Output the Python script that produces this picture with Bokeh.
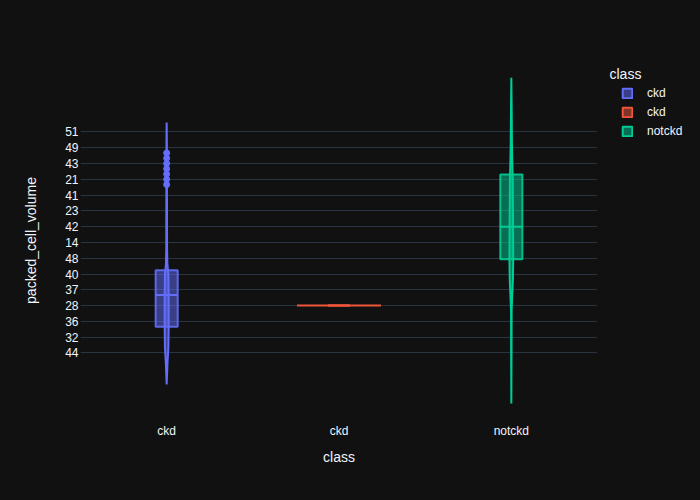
from bokeh.plotting import figure
from bokeh.models import FixedTicker, Legend, LegendItem, Range1d, Label
from bokeh.layouts import row
from bokeh.embed import file_html
from bokeh.resources import INLINE

# ---------------- data ----------------
classes = ["ckd", "ckd\t", "notckd"]
class_labels = ["ckd", "ckd", "notckd"]
colors = ["#636efa", "#EF553B", "#00cc96"]

# packed_cell_volume categories shown on the axis (every third category index)
y_tick_index = [0, 3, 6, 9, 12, 15, 18, 21, 24, 27, 30, 33, 36, 39, 42]
y_tick_labels = ["44", "32", "36", "28", "37", "40", "48", "14", "42", "23", "41", "21", "43", "49", "51"]

# violin density profiles (category index, half-width density)
ckd_prof_y = [-6.0, -2.0, 1.0, 5.0, 10.0, 15.0, 17.0, 20.0, 30.0, 40.0, 43.8]
ckd_prof_d = [0.0, 0.8, 1.7, 2.0, 2.0, 1.7, 0.7, 0.4, 0.3, 0.2, 0.0]
ckdt_prof_y = [9.0, 9.0]
ckdt_prof_d = [42.0, 42.0]
notckd_prof_y = [-9.6, 0.0, 8.0, 11.0, 14.0, 18.0, 25.0, 33.0, 36.0, 40.0, 47.0, 52.3]
notckd_prof_d = [0.0, 0.2, 0.3, 0.9, 1.6, 1.9, 1.7, 1.4, 1.0, 0.6, 0.3, 0.0]

# box statistics (category index)
q1 = [5.0, 9.0, 17.8]
median = [11.0, 9.0, 24.0]
q3 = [15.7, 9.0, 33.9]

# outliers for ckd (category index)
ckd_outliers = [32, 33, 34, 35, 36, 37, 38]

profiles = [(ckd_prof_y, ckd_prof_d), (ckdt_prof_y, ckdt_prof_d), (notckd_prof_y, notckd_prof_d)]

# ---------------- style ----------------
BG = "#111111"
GRID = "#283442"
TXT = "#f2f5fa"
FONT = "Liberation Sans"
DENSITY_SCALE = 1 / 172.33
BOX_HALF = 0.064

p = figure(width=597, height=500, output_backend="svg", toolbar_location=None,
           x_range=Range1d(-0.5, 2.5), y_range=Range1d(-12.83, 55.58),
           min_border_left=80, min_border_right=0, min_border_top=60, min_border_bottom=80)
p.background_fill_color = BG
p.border_fill_color = BG
p.outline_line_color = None

# legend panel as a second, axis-less figure (its frame lines up with the main frame: 60..420 px)
lg = figure(width=103, height=500, output_backend="svg", toolbar_location=None,
            x_range=Range1d(0, 103), y_range=Range1d(80, 440),
            min_border_left=0, min_border_right=0, min_border_top=60, min_border_bottom=80)
lg.background_fill_color = BG
lg.border_fill_color = BG
lg.outline_line_color = None
lg.axis.visible = False
lg.grid.grid_line_color = None

legend_items = []
for i, (cls, col) in enumerate(zip(classes, colors)):
    py, pd_ = profiles[i]
    xs = [i + d * DENSITY_SCALE for d in pd_] + [i - d * DENSITY_SCALE for d in reversed(pd_)]
    ys = list(py) + list(reversed(py))
    p.patch(xs, ys, fill_color=col, fill_alpha=0.5, line_color=col, line_width=2)
    p.quad(left=[i - BOX_HALF], right=[i + BOX_HALF], bottom=[q1[i]], top=[q3[i]],
           fill_color=col, fill_alpha=0.5, line_color=col, line_width=2, line_alpha=0.9)
    p.segment(x0=[i - BOX_HALF], x1=[i + BOX_HALF], y0=[median[i]], y1=[median[i]],
              line_color=col, line_width=2)
    # legend key: same box, lies outside the legend panel's visible range
    key = lg.quad(left=[i - BOX_HALF], right=[i + BOX_HALF], bottom=[q1[i]], top=[q3[i]],
                  fill_color=col, fill_alpha=0.5, line_color=col, line_width=2)
    legend_items.append(LegendItem(label=class_labels[i], renderers=[key]))

p.scatter(x=[0] * len(ckd_outliers), y=ckd_outliers, size=6, color=colors[0])

# axes
p.xaxis.ticker = FixedTicker(ticks=[0, 1, 2])
p.xaxis.major_label_overrides = {i: lab for i, lab in enumerate(class_labels)}
p.yaxis.ticker = FixedTicker(ticks=y_tick_index)
p.yaxis.major_label_overrides = {t: l for t, l in zip(y_tick_index, y_tick_labels)}
for ax in (p.xaxis[0], p.yaxis[0]):
    ax.axis_line_color = None
    ax.major_tick_line_color = None
    ax.minor_tick_line_color = None
    ax.major_tick_out = 0
    ax.major_tick_in = 0
    ax.minor_tick_out = 0
    ax.minor_tick_in = 0
    ax.major_label_text_color = TXT
    ax.major_label_text_font = FONT
    ax.major_label_text_font_size = "12px"
    ax.axis_label_text_color = TXT
    ax.axis_label_text_font = FONT
    ax.axis_label_text_font_size = "14px"
    ax.axis_label_text_font_style = "normal"
p.xaxis.axis_label = "class"
p.yaxis.axis_label = "packed_cell_volume"
p.xaxis.major_label_standoff = 3
p.xaxis.axis_label_standoff = 8
p.yaxis.major_label_standoff = 2
p.yaxis.axis_label_standoff = 23

p.xgrid.grid_line_color = None
p.ygrid.grid_line_color = GRID
p.ygrid.grid_line_width = 1

legend = Legend(items=legend_items, location=(24, 282), orientation="vertical",
                glyph_width=12, glyph_height=12, label_height=12, spacing=5,
                label_standoff=14, padding=0, margin=0,
                background_fill_alpha=0, border_line_color=None,
                label_text_color=TXT, label_text_font=FONT, label_text_font_size="12px")
lg.add_layout(legend, "center")
lg.add_layout(Label(x=12, y=427, text="class", text_color=TXT, text_font=FONT,
                    text_font_size="14px", text_baseline="middle", text_align="left"))

layout = row(p, lg, spacing=0)
html = file_html(layout, INLINE)
html = html.replace("<head>", "<head><style>html,body{background:#111111;margin:0;}</style>", 1)
open("out.html", "w").write(html)
